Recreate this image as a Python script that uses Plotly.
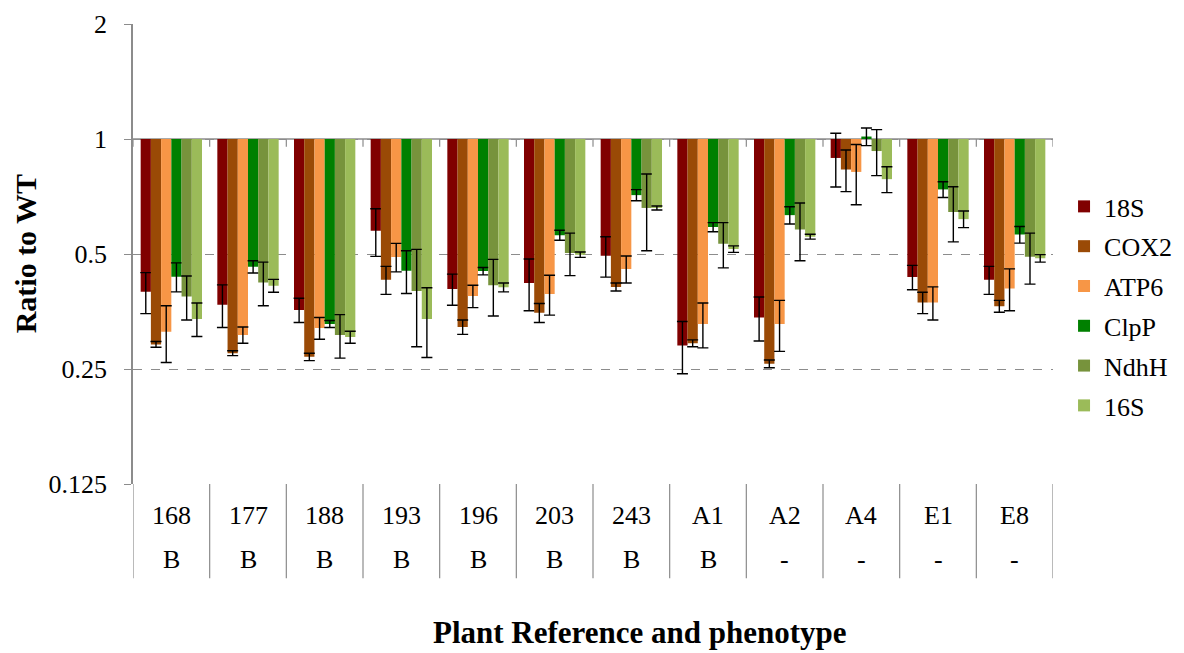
import plotly.graph_objects as go

plants = ["168", "177", "188", "193", "196", "203", "243", "A1", "A2", "A4", "E1", "E8"]
phenotypes = ["B", "B", "B", "B", "B", "B", "B", "B", "-", "-", "-", "-"]

genes = ["18S", "COX2", "ATP6", "ClpP", "NdhH", "16S"]

v_18S = [0.398, 0.368, 0.357, 0.575, 0.405, 0.420, 0.495, 0.288, 0.341, 0.892, 0.435, 0.428]
v_COX2 = [0.290, 0.275, 0.269, 0.428, 0.322, 0.351, 0.410, 0.292, 0.258, 0.832, 0.373, 0.365]
v_ATP6 = [0.313, 0.307, 0.320, 0.491, 0.388, 0.393, 0.457, 0.328, 0.328, 0.820, 0.373, 0.406]
v_ClpP = [0.436, 0.463, 0.328, 0.452, 0.451, 0.560, 0.713, 0.588, 0.632, 1.015, 0.738, 0.562]
v_NdhH = [0.387, 0.421, 0.307, 0.400, 0.414, 0.503, 0.660, 0.532, 0.580, 0.930, 0.644, 0.492]
v_16S = [0.338, 0.413, 0.303, 0.338, 0.409, 0.498, 0.660, 0.515, 0.555, 0.785, 0.617, 0.487]

e_18S = [0.049, 0.047, 0.026, 0.082, 0.038, 0.065, 0.060, 0.045, 0.045, 0.143, 0.032, 0.036]
e_COX2 = [0.005, 0.004, 0.006, 0.036, 0.014, 0.020, 0.010, 0.006, 0.006, 0.104, 0.024, 0.013]
e_ATP6 = [0.053, 0.015, 0.021, 0.042, 0.026, 0.047, 0.037, 0.044, 0.050, 0.147, 0.037, 0.051]
e_ClpP = [0.038, 0.017, 0.007, 0.058, 0.010, 0.017, 0.024, 0.016, 0.033, 0.054, 0.035, 0.028]
e_NdhH = [0.051, 0.055, 0.040, 0.114, 0.070, 0.064, 0.150, 0.072, 0.100, 0.128, 0.106, 0.075]
e_16S = [0.034, 0.016, 0.011, 0.070, 0.011, 0.008, 0.008, 0.010, 0.008, 0.061, 0.031, 0.011]

values = [v_18S, v_COX2, v_ATP6, v_ClpP, v_NdhH, v_16S]
errors = [e_18S, e_COX2, e_ATP6, e_ClpP, e_NdhH, e_16S]
colors = ["#800000", "#9A4A06", "#F79646", "#008000", "#77933C", "#9BBB59"]

y_ticks = [0.125, 0.25, 0.5, 1, 2]
y_ticktext = ["0.125", "0.25", "0.5", "1", "2"]
reference_level = 1

FONT = "Liberation Serif, Times New Roman, serif"
GRAY = "#8C8C8C"

fig = go.Figure()
for name, vals, errs, col in zip(genes, values, errors, colors):
    fig.add_trace(go.Bar(
        name=name, x=plants,
        y=[v - reference_level for v in vals],
        base=[reference_level] * len(vals),
        marker=dict(color=col, line=dict(width=0)),
        error_y=dict(type="data", array=errs, visible=True,
                     color="black", thickness=1.4, width=5.5),
        legendgroup=name,
    ))

shapes = []
shapes.append(dict(type="line", xref="paper", x0=0, x1=1, yref="y",
                   y0=reference_level, y1=reference_level,
                   line=dict(color=GRAY, width=1.5), layer="below"))
n = len(plants)
for i in range(n + 1):
    xb = i - 0.5
    shapes.append(dict(type="line", xref="x", x0=xb, x1=xb, yref="y",
                       y0=reference_level, y1=0.955,
                       line=dict(color=GRAY, width=1.2), layer="below"))
    shapes.append(dict(type="line", xref="x", x0=xb, x1=xb, yref="paper",
                       y0=0, y1=-0.205, line=dict(color=GRAY, width=1.2)))

annotations = []
for i, (p, ph) in enumerate(zip(plants, phenotypes)):
    annotations.append(dict(x=i, xref="x", y=-0.068, yref="paper", text=p,
                            showarrow=False, font=dict(family=FONT, size=26, color="black"),
                            xanchor="center", yanchor="middle"))
    annotations.append(dict(x=i, xref="x", y=-0.165, yref="paper", text=ph,
                            showarrow=False, font=dict(family=FONT, size=26, color="black"),
                            xanchor="center", yanchor="middle"))
annotations.append(dict(x=0.551, xref="paper", y=-0.322, yref="paper",
                        text="<b>Plant Reference and phenotype</b>", showarrow=False,
                        font=dict(family=FONT, size=31, color="black"),
                        xanchor="center", yanchor="middle"))
annotations.append(dict(x=-0.117, xref="paper", y=0.5, yref="paper",
                        text="<b>Ratio to WT</b>", showarrow=False, textangle=-90,
                        font=dict(family=FONT, size=30, color="black"),
                        xanchor="center", yanchor="middle"))

fig.update_layout(
    width=1176, height=645,
    margin=dict(l=125, r=131, t=16, b=169, autoexpand=False),
    paper_bgcolor="white", plot_bgcolor="white",
    barmode="group", bargap=0.2, bargroupgap=0,
    font=dict(family=FONT, size=26, color="black"),
    showlegend=True,
    legend=dict(x=1.012, y=0.387, xanchor="left", yanchor="middle",
                font=dict(family=FONT, size=26, color="black"),
                tracegroupgap=3, traceorder="grouped",
                bgcolor="rgba(0,0,0,0)"),
    shapes=shapes,
    annotations=annotations,
    xaxis=dict(type="category", range=[-0.5, n - 0.5], showticklabels=False,
               showgrid=False, zeroline=False, showline=False, ticks=""),
    yaxis=dict(type="log", range=[-0.90309, 0.30103],
               tickvals=y_ticks, ticktext=y_ticktext,
               showgrid=True, gridcolor=GRAY, griddash="dash", gridwidth=1,
               showline=True, linecolor=GRAY, linewidth=1.5,
               ticks="outside", ticklen=7, tickcolor=GRAY, tickwidth=1.2,
               ticklabelstandoff=12,
               tickfont=dict(family=FONT, size=26, color="black"),
               zeroline=False),
)

fig.write_html("out.html")
